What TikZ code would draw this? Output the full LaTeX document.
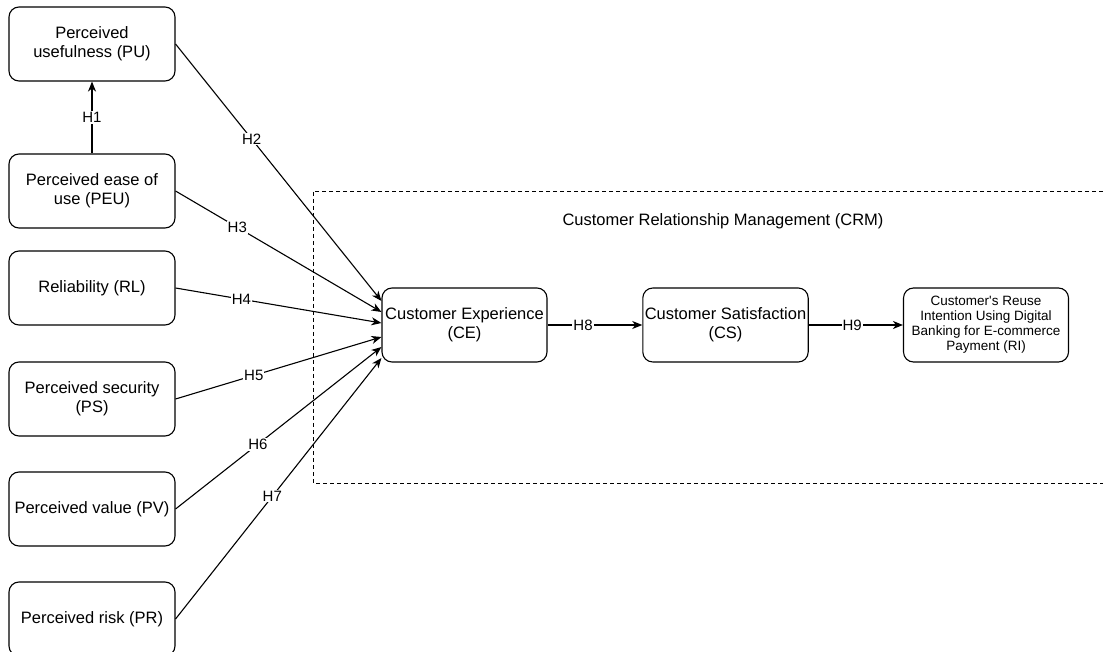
\documentclass[tikz,border=0pt]{standalone}
\usepackage{fontspec}
\setmainfont{Liberation Sans}
\usepackage{tikz}
\usetikzlibrary{arrows.meta,positioning}

\begin{document}
\begin{tikzpicture}[
    x=1pt, y=-1pt,
    factor/.style={draw, rounded corners=10pt, line width=1.1pt, minimum width=166pt, minimum height=74pt, align=center, inner sep=2pt, font=\fontsize{16.5}{19}\selectfont},
    outcome/.style={factor, minimum width=165pt, font=\fontsize{13.5}{15}\selectfont},
    hyp/.style={fill=white, inner sep=1pt, font=\fontsize{15}{17}\selectfont},
    link/.style={-{Stealth[length=10pt, width=8pt, inset=3pt]}, line width=1.1pt},
]
    \useasboundingbox (0,0) rectangle (1103,652);

    % CRM region
    \draw[dashed, line width=0.9pt, dash pattern=on 4pt off 3pt] (1103,191) -| (313,483) -- (1103,483);
    \node[font=\fontsize{16.5}{19}\selectfont] (crm) at (723,221) {Customer Relationship Management (CRM)};

    % Antecedents
    \node[factor] (pu) at (92,44) {Perceived\\usefulness (PU)};
    \node[factor] (peu) at (92,191) {Perceived ease of\\use (PEU)};
    \node[factor] (rl) at (92,288) {Reliability (RL)};
    \node[factor] (ps) at (92,399) {Perceived security\\(PS)};
    \node[factor] (pv) at (92,509) {Perceived value (PV)};
    \node[factor] (pr) at (92,619) {Perceived risk (PR)};

    % Mediators and outcome
    \node[factor, minimum width=165pt] (ce) at (464.5,325) {Customer Experience\\(CE)};
    \node[factor, minimum width=165pt] (cs) at (725.5,325) {Customer Satisfaction\\(CS)};
    \node[outcome] (ri) at (986,325) {Customer\textquotesingle s Reuse\\Intention Using Digital\\Banking for E-commerce\\Payment (RI)};

    % Hypotheses
    \draw[link] (peu) -- node[hyp, pos=0.5] {H1} (pu);
    \draw[link] (pu.east) -- node[hyp, pos=0.37] {H2} ([yshift=24pt]ce.west);
    \draw[link] (peu.east) -- node[hyp, pos=0.30] {H3} ([yshift=13pt]ce.west);
    \draw[link] (rl.east) -- node[hyp, pos=0.32] {H4} ([yshift=2pt]ce.west);
    \draw[link] (ps.east) -- node[hyp, pos=0.38] {H5} ([yshift=-12pt]ce.west);
    \draw[link] (pv.east) -- node[hyp, pos=0.40] {H6} ([yshift=-22pt]ce.west);
    \draw[link] (pr.east) -- node[hyp, pos=0.47] {H7} ([yshift=-33pt]ce.west);
    \draw[link] (ce) -- node[hyp, pos=0.375] {H8} (cs);
    \draw[link] (cs) -- node[hyp, pos=0.46] {H9} (ri);
\end{tikzpicture}
\end{document}
